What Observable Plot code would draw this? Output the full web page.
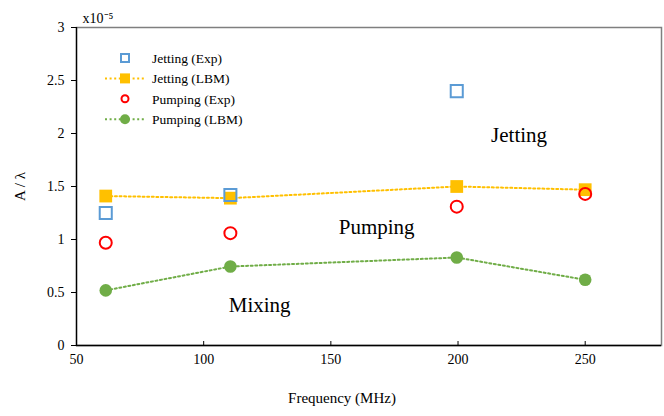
<!DOCTYPE html>
<html>
<head>
<meta charset="utf-8">
<script src="https://cdn.jsdelivr.net/npm/d3@7"></script>
<script src="https://cdn.jsdelivr.net/npm/@observablehq/plot@0.6"></script>
<style>
  html, body { margin: 0; padding: 0; background: #fff; }
  #chart { width: 664px; height: 416px; }
</style>
</head>
<body>
<div id="chart"></div>
<script>
// ---- data ----
const freq = [61.5, 110.5, 199.5, 250];
const freqExpJet = [61.5, 110.5, 199.5];
const jettingExp = [1.25, 1.42, 2.40];
const jettingLBM = [1.41, 1.39, 1.50, 1.47];
const pumpingExp = [0.97, 1.06, 1.31, 1.43];
const pumpingLBM = [0.52, 0.745, 0.83, 0.62];

const regionLabels = ["Jetting", "Pumping", "Mixing"];
const regionX = [224, 168, 122];
const regionY = [1.98, 1.12, 0.38];

const xDomain = [50, 280];
const yDomain = [0, 3];
const xTicks = [50, 100, 150, 200, 250];
const yTicks = [0, 0.5, 1, 1.5, 2, 2.5, 3];

const seriesNames = ["Jetting (Exp)", "Jetting (LBM)", "Pumping (Exp)", "Pumping (LBM)"];
const colors = {blue: "#5B9BD5", yellow: "#FFC000", red: "#FF0000", green: "#70AD47"};

// ---- tables ----
const jetExp = freqExpJet.map((f, i) => ({f, v: jettingExp[i]}));
const jetLBM = freq.map((f, i) => ({f, v: jettingLBM[i]}));
const pumExp = freq.map((f, i) => ({f, v: pumpingExp[i]}));
const pumLBM = freq.map((f, i) => ({f, v: pumpingLBM[i]}));
const regions = regionLabels.map((t, i) => ({t, x: regionX[i], y: regionY[i]}));

const serif = "'Liberation Serif', 'Times New Roman', serif";
const dots = "2,2.6";

const chart = Plot.plot({
  width: 664,
  height: 416,
  marginLeft: 76,
  marginRight: 3,
  marginTop: 27,
  marginBottom: 71,
  x: {domain: xDomain, ticks: xTicks},
  y: {domain: yDomain, ticks: yTicks},
  style: {fontFamily: serif, fontSize: "14px", color: "#000", background: "#fff"},
  marks: [
    Plot.frame({stroke: "#7f7f7f", strokeWidth: 1.5}),
    Plot.ruleX([xDomain[0]], {stroke: "#000", strokeWidth: 1.3}),
    Plot.ruleY([yDomain[0]], {stroke: "#000", strokeWidth: 1.3}),
    // x ticks (inward) and labels
    Plot.axisX({ticks: xTicks, tickSize: 4, dy: -4, tickFormat: () => "", label: null, stroke: "#000"}),
    Plot.axisX({ticks: xTicks, tickSize: 0, tickPadding: 9, label: null, fontSize: 14}),
    // y ticks (outward) and labels
    Plot.axisY({ticks: yTicks, tickSize: 5, tickPadding: 7, tickFormat: d => String(d), label: null, fontSize: 14}),
    // axis titles
    Plot.text(["A / λ"], {frameAnchor: "left", dx: -56, rotate: -90, textAnchor: "middle", fontSize: 15}),
    Plot.text(["Frequency (MHz)"], {frameAnchor: "bottom", dx: -27, dy: 57, textAnchor: "middle", fontSize: 15}),
    Plot.text(["x10⁻⁵"], {frameAnchor: "top-left", dx: 6, dy: -14, textAnchor: "start", fontSize: 14}),
    // series
    Plot.line(jetLBM, {x: "f", y: "v", stroke: colors.yellow, strokeWidth: 2, strokeDasharray: dots}),
    Plot.line(pumLBM, {x: "f", y: "v", stroke: colors.green, strokeWidth: 2, strokeDasharray: dots}),
    Plot.dot(jetLBM, {x: "f", y: "v", symbol: "square", r: 7.2, fill: colors.yellow, stroke: "none"}),
    Plot.dot(jetExp, {x: "f", y: "v", symbol: "square", r: 6.8, fill: "none", stroke: colors.blue, strokeWidth: 2}),
    Plot.dot(pumExp, {x: "f", y: "v", symbol: "circle", r: 6, fill: "none", stroke: colors.red, strokeWidth: 2}),
    Plot.dot(pumLBM, {x: "f", y: "v", symbol: "circle", r: 6.3, fill: colors.green, stroke: "none"}),
    // region annotations
    Plot.text(regions, {x: "x", y: "y", text: "t", fontSize: 21, textAnchor: "middle"})
  ]
});

// ---- legend (inside plot, top-left) ----
const svg = d3.select(chart);
const legendItems = [
  {name: seriesNames[0], sym: "square", fill: "none", stroke: colors.blue, line: null, size: 10},
  {name: seriesNames[1], sym: "square", fill: colors.yellow, stroke: "none", line: colors.yellow, size: 10},
  {name: seriesNames[2], sym: "circle", fill: "none", stroke: colors.red, line: null, size: 8},
  {name: seriesNames[3], sym: "circle", fill: colors.green, stroke: "none", line: colors.green, size: 10}
];
const lg = svg.append("g").attr("font-family", serif).attr("font-size", "13.5px").attr("text-anchor", "start");
legendItems.forEach((it, i) => {
  const y = 58 + i * 20.4;
  const g = lg.append("g").attr("transform", `translate(0,${y})`);
  if (it.line) {
    g.append("line").attr("x1", 105).attr("x2", 145).attr("y1", 0).attr("y2", 0)
      .attr("stroke", it.line).attr("stroke-width", 2).attr("stroke-dasharray", dots);
  }
  if (it.sym === "square") {
    const s = it.stroke === "none" ? it.size : it.size - 2;
    g.append("rect").attr("x", 125 - s / 2).attr("y", -s / 2).attr("width", s).attr("height", s)
      .attr("fill", it.fill).attr("stroke", it.stroke).attr("stroke-width", 2);
  } else {
    const r = it.stroke === "none" ? it.size / 2 : it.size / 2 - 0.5;
    g.append("circle").attr("cx", 125).attr("cy", 0).attr("r", r)
      .attr("fill", it.fill).attr("stroke", it.stroke).attr("stroke-width", 2);
  }
  g.append("text").attr("x", 152).attr("y", 0).attr("dy", "0.35em")
    .attr("text-anchor", "start").attr("fill", "#000").text(it.name);
});

document.getElementById("chart").appendChild(chart);
</script>
</body>
</html>
